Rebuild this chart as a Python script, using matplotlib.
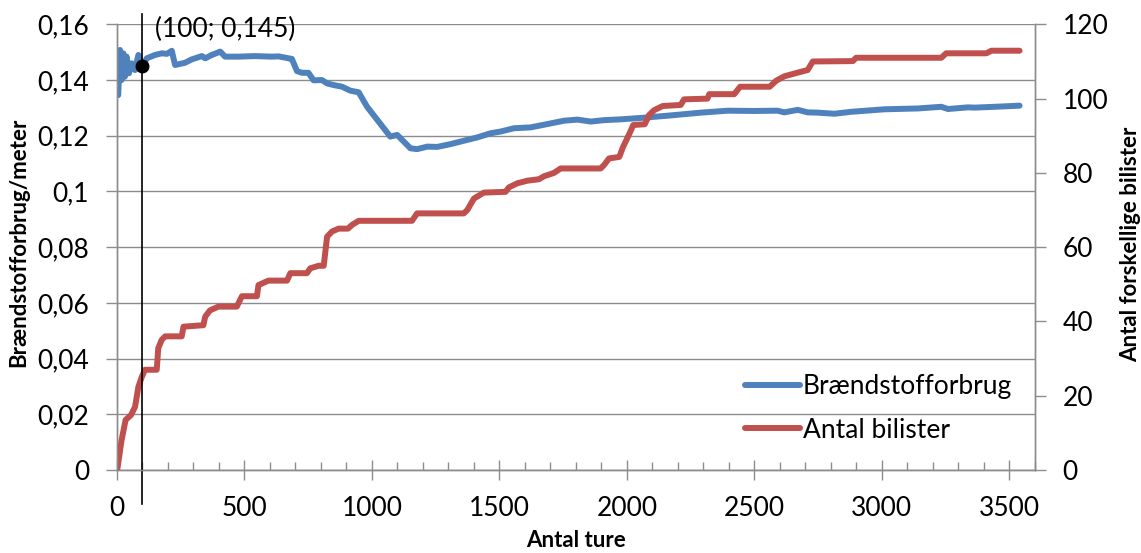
import numpy as np
import matplotlib
matplotlib.use('Agg')
import matplotlib.pyplot as plt
from matplotlib.ticker import MultipleLocator, FuncFormatter

plt.rcParams['font.family'] = ['Lato', 'DejaVu Sans']

# blue: fuel consumption per meter (left axis)
blue_x = [1, 5, 12, 18, 25, 31, 38, 47, 58, 71, 84, 100, 117, 149, 176, 196, 215, 228,
          267, 293, 333, 346, 372, 405, 424, 476, 541, 608, 634, 673, 686, 706, 726,
          751, 771, 804, 824, 850, 883, 915, 948, 981, 1072, 1099, 1151, 1177, 1217,
          1256, 1308, 1360, 1413, 1465, 1504, 1557, 1622, 1688, 1753, 1806, 1858, 1910,
          1976, 2054, 2159, 2290, 2395, 2500, 2591, 2617, 2670, 2709, 2749, 2814, 2879,
          3010, 3141, 3233, 3259, 3338, 3364, 3442, 3540]
blue_y = [0.137, 0.1346, 0.1508, 0.140, 0.1496, 0.1412, 0.1484, 0.1424, 0.146, 0.1436,
          0.149, 0.145, 0.1478, 0.149, 0.1496, 0.1494, 0.1505, 0.1454, 0.1462, 0.1474,
          0.1486, 0.1478, 0.149, 0.1502, 0.1484, 0.1484, 0.1486, 0.1484, 0.1485, 0.1478,
          0.1476, 0.1432, 0.1426, 0.1426, 0.1399, 0.140, 0.1388, 0.1382, 0.1376, 0.1362,
          0.1356, 0.1304, 0.1197, 0.1203, 0.1155, 0.1152, 0.1161, 0.116, 0.117, 0.1182,
          0.1194, 0.1209, 0.1215, 0.1227, 0.1230, 0.1242, 0.1254, 0.1258, 0.1251, 0.1256,
          0.1259, 0.1264, 0.1272, 0.1283, 0.129, 0.1289, 0.129, 0.1284, 0.1293, 0.1284,
          0.1283, 0.1279, 0.1286, 0.1295, 0.1298, 0.1304, 0.1296, 0.1302, 0.1301, 0.1304,
          0.1308]

# red: number of different drivers (right axis)
red_x = [1, 18, 34, 55, 71, 84, 97, 110, 156, 162, 175, 189, 254, 261, 339, 346, 365,
         398, 470, 490, 549, 555, 594, 667, 680, 745, 758, 791, 811, 824, 843, 869, 906,
         922, 948, 1157, 1177, 1360, 1374, 1400, 1439, 1524, 1537, 1570, 1609, 1655,
         1675, 1714, 1740, 1897, 1910, 1930, 1970, 1985, 2010, 2025, 2070, 2087, 2107,
         2140, 2211, 2224, 2316, 2323, 2421, 2444, 2560, 2585, 2617, 2670, 2709, 2729,
         2886, 2899, 3233, 3252, 3410, 3429, 3540]
red_y = [0, 8, 13.5, 14.8, 17, 22.4, 25, 27, 27, 32.8, 35, 36, 36, 38.6, 39, 41.3, 43,
         44, 44, 46.8, 46.8, 49.8, 51, 51, 53, 53, 54.3, 55, 55, 62.8, 64.2, 65, 65, 66,
         67.1, 67.1, 69.1, 69.1, 70, 73.1, 74.7, 74.9, 76.1, 77.2, 77.9, 78.3, 79.1, 80,
         81.2, 81.2, 82.1, 83.9, 84.3, 87, 90.6, 92.9, 93.1, 95.6, 96.9, 98, 98.3, 99.8,
         100, 101.2, 101.2, 103.2, 103.2, 104.8, 106, 107, 107.7, 110, 110.1, 111, 111,
         112.2, 112.2, 112.9, 112.9]

mark_x = 100
mark_y = 0.145

grey = '#8c8c8c'
fs = 19
fs_lab = 16

fig = plt.figure(figsize=(11.41, 5.53), dpi=100)
ax = fig.add_axes([0.1025, 0.150, 0.8045, 0.806])
ax2 = ax.twinx()

l1, = ax.plot(blue_x, blue_y, color='#4F81BD', linewidth=4.3, solid_capstyle='round',
              label='Brændstofforbrug')
l2, = ax2.plot(red_x, red_y, color='#C0504D', linewidth=4.3, solid_capstyle='round',
               label='Antal bilister')

ax.set_xlim(0, 3600)
ax.set_ylim(0, 0.16)
ax2.set_ylim(0, 120)

ax.xaxis.set_major_locator(MultipleLocator(500))
ax.xaxis.set_minor_locator(MultipleLocator(100))
ax.yaxis.set_major_locator(MultipleLocator(0.02))
ax2.yaxis.set_major_locator(MultipleLocator(20))
ax.yaxis.set_major_formatter(FuncFormatter(lambda v, p: f'{round(v, 2):g}'.replace('.', ',')))

ax.grid(axis='y', color=grey, linewidth=1.0)
ax.set_axisbelow(True)

for a in (ax, ax2):
    a.spines['top'].set_visible(False)
    for s in ('left', 'right', 'bottom'):
        a.spines[s].set_color(grey)
        a.spines[s].set_linewidth(1.0)

ax.tick_params(axis='x', which='major', direction='inout', length=15, width=1.0,
               color=grey, labelsize=fs, pad=11, top=False)
ax.tick_params(axis='x', which='minor', direction='in', length=6, width=1.0,
               color=grey, top=False)
ax2.tick_params(axis='x', which='both', top=False, bottom=False, labelbottom=False)
ax.tick_params(axis='y', direction='out', length=8, width=1.0, color=grey,
               labelsize=fs, pad=12)
ax2.tick_params(axis='y', direction='out', length=8, width=1.0, color=grey,
                labelsize=fs, pad=12)

ax.set_xlabel('Antal ture', fontsize=fs_lab, fontweight='bold')
ax.xaxis.set_label_coords(0.5, -0.135)
ax.set_ylabel('Brændstofforbrug/meter', fontsize=fs_lab, fontweight='bold')
ax.yaxis.set_label_coords(-0.096, 0.51)
ax2.set_ylabel('Antal forskellige bilister', fontsize=fs_lab, fontweight='bold')
ax2.yaxis.set_label_coords(1.093, 0.507)

# marker line at 100 trips
ax2.axvline(mark_x, ymin=-0.076, ymax=1.023, color='black', linewidth=1.2, clip_on=False)
ax2.plot([mark_x], [mark_y * 750], 'o', color='black', markersize=9, zorder=5)
ax2.text(150, 0.158 * 750, '(100; 0,145)', fontsize=fs, va='center', ha='left')

ax2.legend([l1, l2], ['Brændstofforbrug', 'Antal bilister'], loc='upper left',
           bbox_to_anchor=(0.684, 0.215), frameon=False, fontsize=fs,
           handlelength=2.1, handletextpad=0.1, labelspacing=0.7,
           borderpad=0, borderaxespad=0)

fig.savefig('out.png', dpi=100)
